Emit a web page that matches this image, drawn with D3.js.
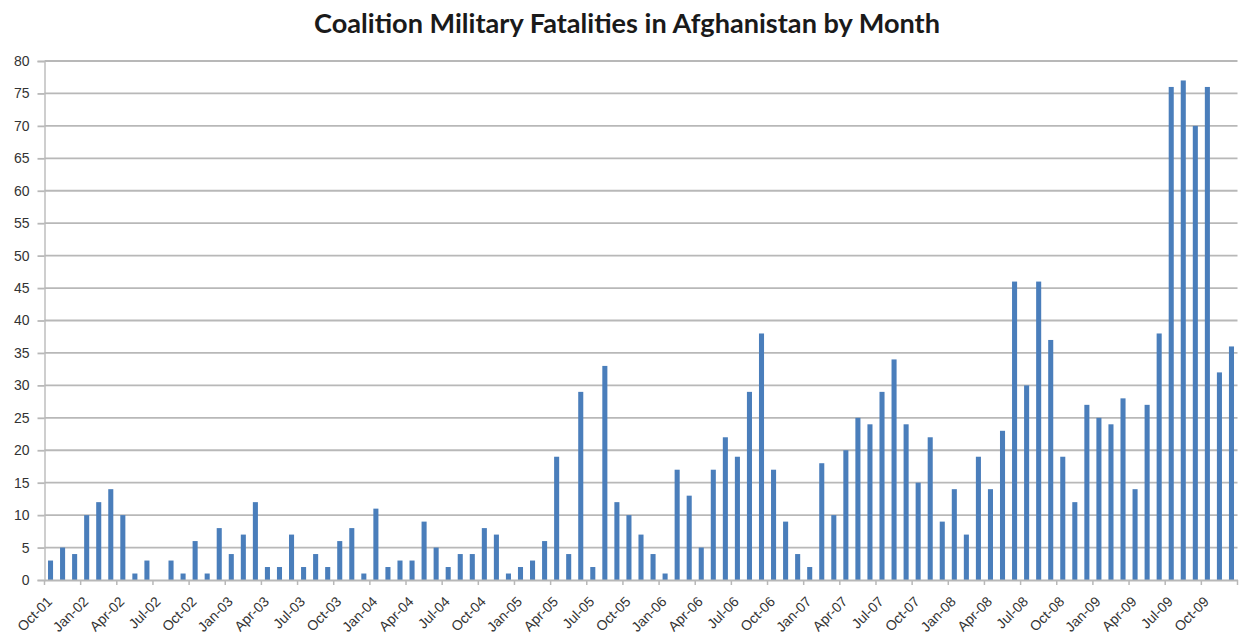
<!DOCTYPE html>
<html>
<head>
<meta charset="utf-8">
<script src="https://cdn.jsdelivr.net/npm/d3@7"></script>
<style>
  html, body { margin: 0; padding: 0; background: #fff; }
  svg { display: block; }
</style>
</head>
<body>
<svg id="chart" width="1246" height="641"></svg>
<script>
const title = "Coalition Military Fatalities in Afghanistan by Month";
const monthNames = ["Jan","Feb","Mar","Apr","May","Jun","Jul","Aug","Sep","Oct","Nov","Dec"];
// Months Oct-01 .. Dec-09
const months = [];
for (let yr = 2001; yr <= 2009; yr++) {
  for (let m = (yr === 2001 ? 9 : 0); m < 12; m++) {
    months.push(monthNames[m] + "-" + String(yr % 100).padStart(2, "0"));
  }
}
const fatalities = [
  3, 5, 4,
  10, 12, 14, 10, 1, 3, 0, 3, 1, 6, 1, 8,
  4, 7, 12, 2, 2, 7, 2, 4, 2, 6, 8, 1,
  11, 2, 3, 3, 9, 5, 2, 4, 4, 8, 7, 1,
  2, 3, 6, 19, 4, 29, 2, 33, 12, 10, 7, 4,
  1, 17, 13, 5, 17, 22, 19, 29, 38, 17, 9, 4,
  2, 18, 10, 20, 25, 24, 29, 34, 24, 15, 22, 9,
  14, 7, 19, 14, 23, 46, 30, 46, 37, 19, 12, 27,
  25, 24, 28, 14, 27, 38, 76, 77, 70, 76, 32, 36
];
const yTicks = d3.range(0, 81, 5);
const tickMonths = months.filter((d, i) => i % 3 === 0);

const svg = d3.select("#chart");
const plotLeft = 44.5, plotRight = 1237.5, plotTop = 61, plotBottom = 580;

const x = d3.scaleBand().domain(months).range([plotLeft, plotRight]).paddingInner(0.58).paddingOuter(0.29);
const step = x.step();
const y = d3.scaleLinear().domain([0, 80]).range([plotBottom, plotTop]);

// title (sized to span the same width as the reference)
const t = svg.append("text")
  .attr("x", 627).attr("y", 33)
  .attr("text-anchor", "middle")
  .attr("font-family", "Lato, 'Open Sans', sans-serif")
  .attr("font-weight", "bold")
  .attr("font-size", 20)
  .attr("fill", "#1a1a1a")
  .text(title);
const tw = t.node().getComputedTextLength();
t.attr("font-size", 20 * 626 / tw);

const labelFont = "'Liberation Sans', Arial, sans-serif";

// y axis
const yAxis = d3.axisLeft(y).tickValues(yTicks).tickSize(7).tickPadding(8);
const gy = svg.append("g").attr("transform", `translate(${plotLeft},0)`).call(yAxis);
gy.select(".domain").attr("stroke", "#bfbfbf").attr("stroke-width", 1.5);
gy.selectAll(".tick line").attr("stroke", "#b8b8b8").attr("stroke-width", 1.8);
gy.selectAll(".tick text")
  .attr("font-family", labelFont)
  .attr("font-size", 14).attr("fill", "#333");

// gridlines
svg.append("g").selectAll("line").data(yTicks.filter(d => d > 0)).join("line")
  .attr("x1", plotLeft).attr("x2", plotRight)
  .attr("y1", d => y(d)).attr("y2", d => y(d))
  .attr("stroke", "#b8b8b8").attr("stroke-width", 1.8);

// bars
svg.append("g").selectAll("rect").data(fatalities).join("rect")
  .attr("x", (d, i) => x(months[i]))
  .attr("width", x.bandwidth())
  .attr("y", d => y(d))
  .attr("height", d => y(0) - y(d))
  .attr("fill", "#4a7ebb");

// x axis
const xAxis = d3.axisBottom(x).tickValues(tickMonths).tickSize(0).tickPadding(0);
const gx = svg.append("g").attr("transform", `translate(0,${plotBottom})`).call(xAxis);
gx.select(".domain").attr("stroke", "#b8b8b8").attr("stroke-width", 1.8);
gx.selectAll(".tick").append("line")
  .attr("x1", -step / 2).attr("x2", -step / 2)
  .attr("y1", 0).attr("y2", 5)
  .attr("stroke", "#b8b8b8").attr("stroke-width", 1.5);
gx.append("line")
  .attr("x1", plotRight).attr("x2", plotRight).attr("y1", 0).attr("y2", 5)
  .attr("stroke", "#b8b8b8").attr("stroke-width", 1.5);
gx.selectAll(".tick text")
  .attr("font-family", labelFont)
  .attr("font-size", 14).attr("fill", "#333")
  .attr("text-anchor", "end")
  .attr("dy", "0.35em")
  .attr("transform", "translate(-1,19) rotate(-45)");
</script>
</body>
</html>
